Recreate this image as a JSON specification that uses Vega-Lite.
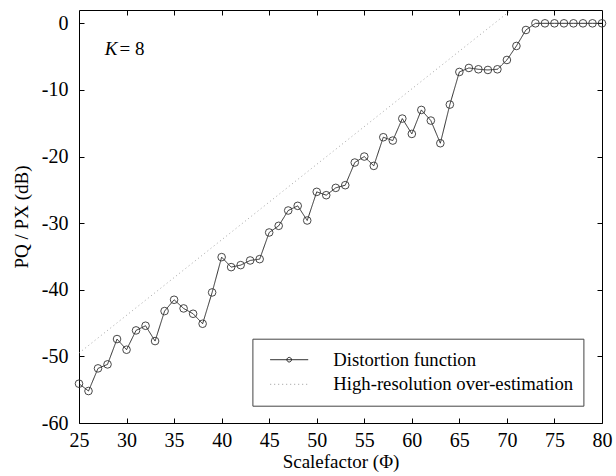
{
  "$schema": "https://vega.github.io/schema/vega-lite/v6.json",
  "width": 523,
  "height": 413,
  "autosize": "none",
  "padding": {"left": 79, "top": 10, "right": 14, "bottom": 53},
  "background": "white",
  "config": {
    "view": {"stroke": "black", "strokeWidth": 1},
    "font": "Liberation Serif",
    "axis": {
      "labelFont": "Liberation Serif",
      "titleFont": "Liberation Serif",
      "labelFontSize": 20,
      "titleFontSize": 19,
      "titleFontWeight": "normal",
      "labelColor": "black",
      "titleColor": "black",
      "tickColor": "black",
      "tickWidth": 1,
      "domain": false,
      "grid": false
    }
  },
  "datasets": {
    "curves": [
      {"phi": 25, "db": -54.1, "series": "Distortion function"},
      {"phi": 26, "db": -55.2, "series": "Distortion function"},
      {"phi": 27, "db": -51.8, "series": "Distortion function"},
      {"phi": 28, "db": -51.2, "series": "Distortion function"},
      {"phi": 29, "db": -47.4, "series": "Distortion function"},
      {"phi": 30, "db": -49.0, "series": "Distortion function"},
      {"phi": 31, "db": -46.1, "series": "Distortion function"},
      {"phi": 32, "db": -45.4, "series": "Distortion function"},
      {"phi": 33, "db": -47.7, "series": "Distortion function"},
      {"phi": 34, "db": -43.2, "series": "Distortion function"},
      {"phi": 35, "db": -41.5, "series": "Distortion function"},
      {"phi": 36, "db": -42.8, "series": "Distortion function"},
      {"phi": 37, "db": -43.6, "series": "Distortion function"},
      {"phi": 38, "db": -45.1, "series": "Distortion function"},
      {"phi": 39, "db": -40.4, "series": "Distortion function"},
      {"phi": 40, "db": -35.1, "series": "Distortion function"},
      {"phi": 41, "db": -36.6, "series": "Distortion function"},
      {"phi": 42, "db": -36.3, "series": "Distortion function"},
      {"phi": 43, "db": -35.6, "series": "Distortion function"},
      {"phi": 44, "db": -35.4, "series": "Distortion function"},
      {"phi": 45, "db": -31.4, "series": "Distortion function"},
      {"phi": 46, "db": -30.4, "series": "Distortion function"},
      {"phi": 47, "db": -28.1, "series": "Distortion function"},
      {"phi": 48, "db": -27.4, "series": "Distortion function"},
      {"phi": 49, "db": -29.6, "series": "Distortion function"},
      {"phi": 50, "db": -25.3, "series": "Distortion function"},
      {"phi": 51, "db": -25.8, "series": "Distortion function"},
      {"phi": 52, "db": -24.7, "series": "Distortion function"},
      {"phi": 53, "db": -24.3, "series": "Distortion function"},
      {"phi": 54, "db": -20.9, "series": "Distortion function"},
      {"phi": 55, "db": -20.0, "series": "Distortion function"},
      {"phi": 56, "db": -21.4, "series": "Distortion function"},
      {"phi": 57, "db": -17.1, "series": "Distortion function"},
      {"phi": 58, "db": -17.6, "series": "Distortion function"},
      {"phi": 59, "db": -14.3, "series": "Distortion function"},
      {"phi": 60, "db": -16.6, "series": "Distortion function"},
      {"phi": 61, "db": -13.0, "series": "Distortion function"},
      {"phi": 62, "db": -14.6, "series": "Distortion function"},
      {"phi": 63, "db": -18.0, "series": "Distortion function"},
      {"phi": 64, "db": -12.2, "series": "Distortion function"},
      {"phi": 65, "db": -7.3, "series": "Distortion function"},
      {"phi": 66, "db": -6.7, "series": "Distortion function"},
      {"phi": 67, "db": -6.9, "series": "Distortion function"},
      {"phi": 68, "db": -7.0, "series": "Distortion function"},
      {"phi": 69, "db": -6.9, "series": "Distortion function"},
      {"phi": 70, "db": -5.5, "series": "Distortion function"},
      {"phi": 71, "db": -3.4, "series": "Distortion function"},
      {"phi": 72, "db": -1.0, "series": "Distortion function"},
      {"phi": 73, "db": 0, "series": "Distortion function"},
      {"phi": 74, "db": 0, "series": "Distortion function"},
      {"phi": 75, "db": 0, "series": "Distortion function"},
      {"phi": 76, "db": 0, "series": "Distortion function"},
      {"phi": 77, "db": 0, "series": "Distortion function"},
      {"phi": 78, "db": 0, "series": "Distortion function"},
      {"phi": 79, "db": 0, "series": "Distortion function"},
      {"phi": 80, "db": 0, "series": "Distortion function"},
      {"phi": 25, "db": -49.5, "series": "High-resolution over-estimation"},
      {"phi": 70.45, "db": 2.0, "series": "High-resolution over-estimation"}
    ]
  },
  "data": {"name": "curves"},
  "layer": [
    {
      "mark": {"type": "line", "strokeWidth": 0.9},
      "encoding": {
        "x": {
          "field": "phi", "type": "quantitative",
          "scale": {"domain": [25, 80], "nice": false, "zero": false},
          "axis": {
            "orient": "bottom",
            "values": [25, 30, 35, 40, 45, 50, 55, 60, 65, 70, 75, 80],
            "tickSize": -5,
            "labelPadding": 12,
            "labelFlush": false,
            "labelOverlap": false,
            "title": "Scalefactor (Φ)",
            "titlePadding": 2
          }
        },
        "y": {
          "field": "db", "type": "quantitative",
          "scale": {"domain": [-60, 2], "nice": false, "zero": false},
          "axis": {
            "orient": "left",
            "values": [-60, -50, -40, -30, -20, -10, 0],
            "labelExpr": "datum.value < 0 ? '-' + abs(datum.value) : '' + datum.value",
            "tickSize": -5,
            "labelPadding": 16,
            "labelFlush": false,
            "labelOverlap": false,
            "title": "PQ / PX  (dB)",
            "titlePadding": 10
          }
        },
        "color": {
          "field": "series", "type": "nominal",
          "scale": {
            "domain": ["Distortion function", "High-resolution over-estimation"],
            "range": ["#1a1a1a", "#9a9a9a"]
          },
          "legend": {
            "title": null,
            "orient": "none",
            "legendX": 173.4,
            "legendY": 328.7,
            "padding": 10,
            "strokeColor": "#444444",
            "fillColor": "white",
            "labelFont": "Liberation Serif",
            "labelFontSize": 18.7,
            "labelColor": "black",
            "labelLimit": 400,
            "symbolSize": 1444,
            "symbolStrokeWidth": 1,
            "clipHeight": 22,
            "rowPadding": 2.6,
            "symbolOffset": 7.3,
            "labelOffset": 24.6,
            "encode": {
              "symbols": {
                "update": {
                  "shape": {"signal": "datum.value == 'Distortion function' ? 'M-1,0L1,0M0.12,0A0.12,0.12 0 1 1 -0.12,0A0.12,0.12 0 1 1 0.12,0' : 'M-1,0L1,0'"},
                  "fill": {"value": "transparent"}
                }
              }
            }
          }
        },
        "strokeDash": {
          "field": "series", "type": "nominal",
          "scale": {
            "domain": ["Distortion function", "High-resolution over-estimation"],
            "range": [[1, 0], [1, 3]]
          }
        },
        "order": {"field": "phi", "type": "quantitative"}
      }
    },
    {
      "transform": [{"filter": "datum.series == 'Distortion function'"}],
      "mark": {"type": "point", "shape": "circle", "filled": false, "size": 58, "color": "#333333", "strokeWidth": 0.9, "opacity": 1},
      "encoding": {
        "x": {
          "field": "phi", "type": "quantitative",
          "axis": {
            "orient": "top",
            "values": [30, 35, 40, 45, 50, 55, 60, 65, 70, 75],
            "tickSize": -5,
            "labels": false,
            "title": null
          }
        },
        "y": {
          "field": "db", "type": "quantitative",
          "axis": {
            "orient": "right",
            "values": [-50, -40, -30, -20, -10, 0],
            "tickSize": -5,
            "labels": false,
            "title": null
          }
        }
      }
    },
    {
      "data": {"values": [{"phi": 27.7, "db": -3.9, "label": "K"}]},
      "mark": {"type": "text", "align": "left", "baseline": "middle", "font": "Liberation Serif", "fontSize": 19, "fontStyle": "italic", "color": "black"},
      "encoding": {
        "x": {"field": "phi", "type": "quantitative", "axis": null},
        "y": {"field": "db", "type": "quantitative", "axis": null},
        "text": {"field": "label"}
      }
    },
    {
      "data": {"values": [{"phi": 29.25, "db": -3.9, "label": "= 8"}]},
      "mark": {"type": "text", "align": "left", "baseline": "middle", "font": "Liberation Serif", "fontSize": 19, "color": "black"},
      "encoding": {
        "x": {"field": "phi", "type": "quantitative", "axis": null},
        "y": {"field": "db", "type": "quantitative", "axis": null},
        "text": {"field": "label"}
      }
    }
  ],
  "resolve": {"axis": {"x": "independent", "y": "independent"}}
}
